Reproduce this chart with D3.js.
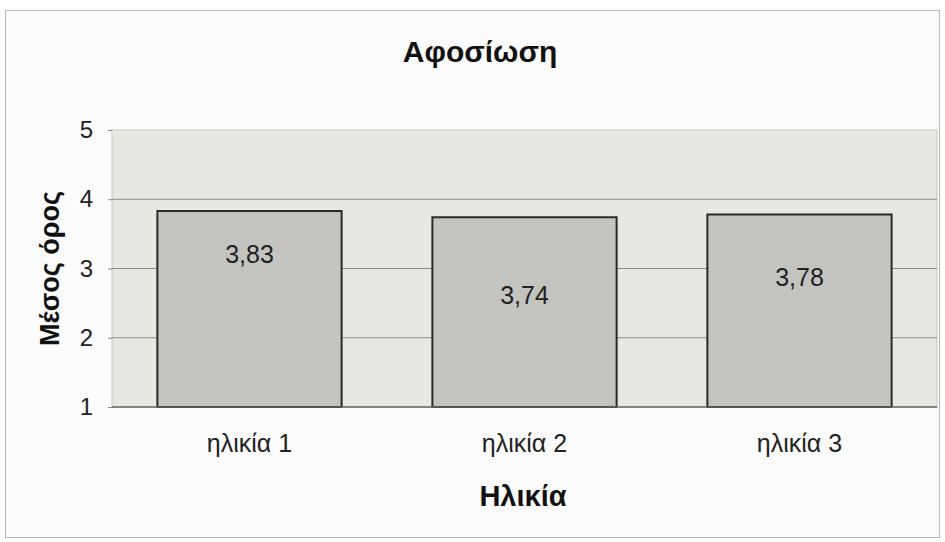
<!DOCTYPE html>
<html>
<head>
<meta charset="utf-8">
<script src="https://cdn.jsdelivr.net/npm/d3@7"></script>
<style>
  body { margin: 0; background: #fff; }
  svg { display: block; font-family: "Liberation Sans", Arial, sans-serif; }
</style>
</head>
<body>
<div id="chart"></div>
<script>
const categories = ['ηλικία 1', 'ηλικία 2', 'ηλικία 3'];
const values = [3.83, 3.74, 3.78];
const valueLabels = ['3,83', '3,74', '3,78'];
// where Excel dropped each data label, in value units
const labelAt = [3.2, 2.62, 2.88];
const yTicks = [1, 2, 3, 4, 5];

const width = 945;
const height = 542;
const margin = {top: 130, right: 8, bottom: 135, left: 112};

const svg = d3.select('#chart')
  .append('svg')
  .attr('width', width)
  .attr('height', height);

// chart frame
svg.append('rect')
  .attr('x', 5.5).attr('y', 10.5)
  .attr('width', 934).attr('height', 527)
  .attr('fill', '#fcfcfc')
  .attr('stroke', '#b8b8b8');

const x = d3.scaleBand()
  .domain(categories)
  .range([margin.left, width - margin.right])
  .paddingInner(0.33)
  .paddingOuter(0.165);

const y = d3.scaleLinear()
  .domain([1, 5])
  .range([height - margin.bottom, margin.top]);

// plot area
svg.append('rect')
  .attr('x', margin.left).attr('y', margin.top)
  .attr('width', width - margin.right - margin.left)
  .attr('height', y(1) - y(5))
  .attr('fill', '#e7e8e2')
  .attr('stroke', '#c8c8c4');

// gridlines
svg.append('g')
  .selectAll('line')
  .data(yTicks.filter(d => d > 1 && d < 5))
  .join('line')
  .attr('x1', margin.left)
  .attr('x2', width - margin.right)
  .attr('y1', d => y(d))
  .attr('y2', d => y(d))
  .attr('stroke', '#8a8a88')
  .attr('stroke-width', 1);

// y axis
svg.append('g')
  .attr('transform', `translate(${margin.left},0)`)
  .call(d3.axisLeft(y).tickValues(yTicks).tickSize(4).tickPadding(15).tickFormat(d3.format('d')))
  .call(g => g.select('.domain').remove())
  .call(g => g.selectAll('.tick line').attr('stroke', '#888'))
  .call(g => g.selectAll('.tick text')
    .attr('fill', '#222')
    .style('font-size', '24px')
    .style('font-family', '"Liberation Sans", Arial, sans-serif'));

// bars
svg.append('g')
  .selectAll('rect')
  .data(values)
  .join('rect')
  .attr('x', (d, i) => x(categories[i]))
  .attr('y', d => y(d))
  .attr('width', x.bandwidth())
  .attr('height', d => y(1) - y(d))
  .attr('fill', '#c3c4c0')
  .attr('stroke', '#2a2a2a')
  .attr('stroke-width', 2);

// x axis line
svg.append('line')
  .attr('x1', margin.left)
  .attr('x2', width - margin.right)
  .attr('y1', y(1))
  .attr('y2', y(1))
  .attr('stroke', '#666')
  .attr('stroke-width', 1.5);

// data labels
svg.append('g')
  .selectAll('text')
  .data(valueLabels)
  .join('text')
  .attr('x', (d, i) => x(categories[i]) + x.bandwidth() / 2)
  .attr('y', (d, i) => y(labelAt[i]))
  .attr('dy', '0.35em')
  .attr('text-anchor', 'middle')
  .attr('fill', '#222')
  .style('font-size', '25px')
  .text(d => d);

// category labels
svg.append('g')
  .selectAll('text')
  .data(categories)
  .join('text')
  .attr('x', d => x(d) + x.bandwidth() / 2)
  .attr('y', y(1) + 36)
  .attr('dy', '0.35em')
  .attr('text-anchor', 'middle')
  .attr('fill', '#222')
  .style('font-size', '25px')
  .text(d => d);

// title
svg.append('text')
  .attr('x', 480)
  .attr('y', 51)
  .attr('dy', '0.35em')
  .attr('text-anchor', 'middle')
  .attr('fill', '#111')
  .style('font-size', '30px')
  .style('font-weight', 'bold')
  .text('Αφοσίωση');

// x title
svg.append('text')
  .attr('x', 523)
  .attr('y', 496)
  .attr('dy', '0.35em')
  .attr('text-anchor', 'middle')
  .attr('fill', '#111')
  .style('font-size', '29px')
  .style('font-weight', 'bold')
  .text('Ηλικία');

// y title
svg.append('text')
  .attr('transform', `translate(50,${(y(1) + y(5)) / 2}) rotate(-90)`)
  .attr('dy', '0.35em')
  .attr('text-anchor', 'middle')
  .attr('fill', '#111')
  .style('font-size', '27px')
  .style('font-weight', 'bold')
  .text('Μέσος όρος');
</script>
</body>
</html>
